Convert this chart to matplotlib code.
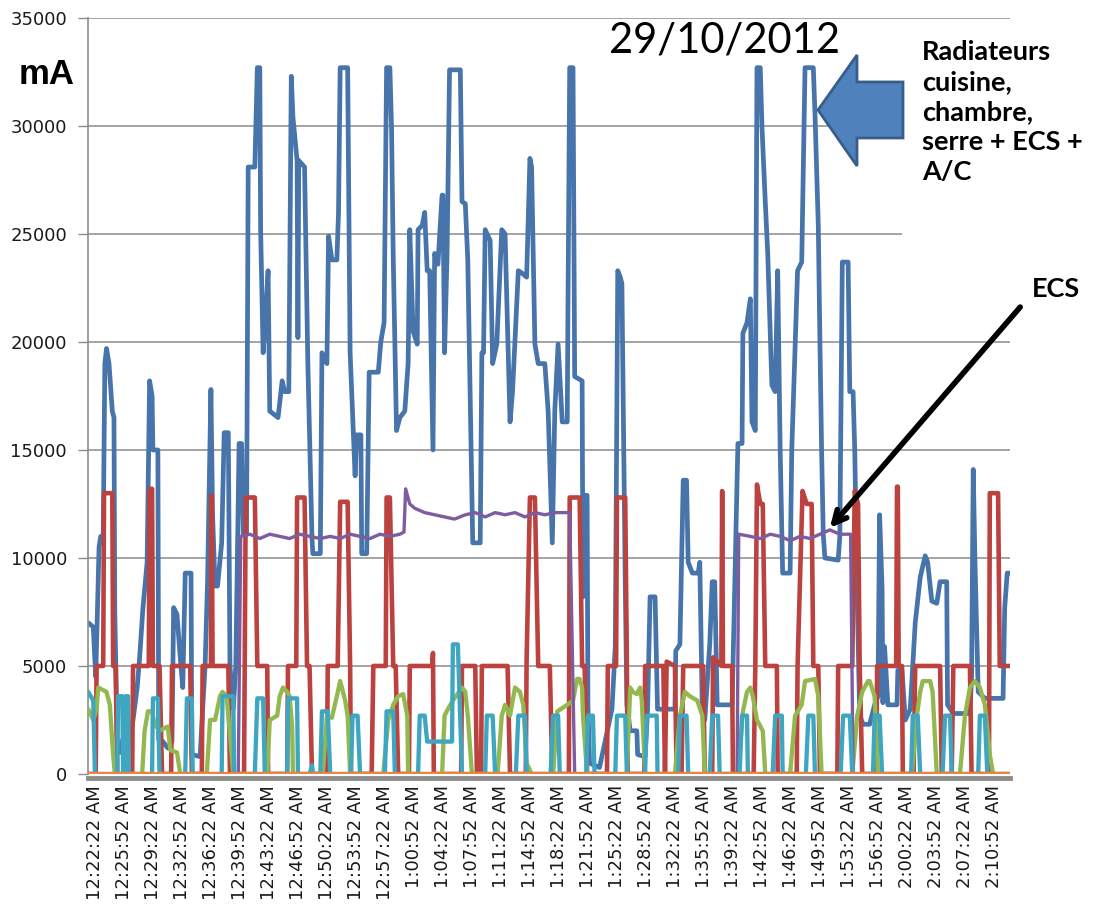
import matplotlib
matplotlib.use("Agg")
import matplotlib.pyplot as plt
from matplotlib.patches import Polygon, Rectangle

# Time in minutes after 12:22:22 AM, current in mA
total = [(-0.8, 7000), (-0.2, 6800), (0.1, 4500), (0.5, 10500), (0.7, 11000), (1.0, 11000),
         (1.2, 19000), (1.4, 19700), (1.7, 19000), (2.1, 16800), (2.3, 16500), (2.4, 7500),
         (2.7, 1500), (3.0, 1000), (3.6, 2000), (4.0, 1200), (4.6, 2500), (5.1, 4000),
         (5.4, 5400), (5.8, 7700), (6.3, 9800), (6.6, 18200), (6.9, 17500), (7.0, 15000),
         (7.6, 15000), (7.7, 1600), (8.2, 1500), (8.8, 1200), (9.3, 1500), (9.5, 7700),
         (9.9, 7400), (10.3, 5400), (10.6, 4000), (10.9, 9300), (11.6, 9300), (11.7, 900),
         (12.7, 800), (13.0, 3000), (13.3, 5000), (13.6, 9000), (14.0, 17800), (14.2, 12000),
         (14.5, 8700), (14.8, 8700), (15.3, 10700), (15.6, 15800), (16.1, 15800), (16.3, 5000),
         (16.7, 3000), (17.0, 5000), (17.4, 15300), (17.7, 15300), (17.9, 11100), (18.3, 11100),
         (18.5, 28100), (19.3, 28100), (19.6, 32700), (19.9, 32700), (20.0, 25200), (20.3, 19500),
         (20.5, 20500), (20.9, 23300), (21.1, 16800), (22.1, 16500), (22.6, 18200), (22.9, 17700),
         (23.4, 17700), (23.7, 32300), (23.9, 30400), (24.4, 28400), (24.5, 20200), (24.6, 28400),
         (25.3, 28100), (25.7, 19000), (26.2, 10900), (26.3, 10200), (27.2, 10200), (27.4, 19500),
         (28.0, 19000), (28.2, 24900), (28.6, 23800), (29.2, 23800), (29.4, 26000), (29.6, 32700),
         (30.5, 32700), (30.8, 19500), (31.4, 13800), (31.6, 15700), (32.1, 15700), (32.2, 10200),
         (32.8, 10200), (33.1, 18600), (34.2, 18600), (34.5, 20000), (34.9, 20900), (35.2, 32700),
         (35.6, 32700), (35.8, 29900), (36.0, 24000), (36.4, 15900), (36.8, 16500), (37.4, 16800),
         (37.8, 19000), (38.0, 25200), (38.4, 20500), (38.9, 19900), (39.0, 25200), (39.5, 25400),
         (39.8, 26000), (40.1, 23300), (40.4, 23300), (40.8, 15000), (41.0, 24100), (41.4, 23600),
         (41.9, 26800), (42.0, 26800), (42.2, 19500), (42.5, 24100), (42.8, 32600), (44.1, 32600),
         (44.3, 26500), (44.7, 26400), (45.0, 23800), (45.6, 10700), (46.5, 10700), (46.7, 19500),
         (46.9, 19500), (47.1, 25200), (47.7, 24700), (48.0, 19000), (48.5, 19900), (49.1, 25200),
         (49.5, 25000), (50.1, 16300), (50.4, 17700), (51.1, 23300), (51.5, 23200), (52.1, 23000),
         (52.5, 28500), (52.7, 28100), (53.1, 19900), (53.5, 19000), (54.3, 19000), (54.7, 16800),
         (55.2, 10700), (55.5, 16800), (55.9, 19900), (56.4, 16300), (57.0, 16300), (57.1, 22200),
         (57.3, 32700), (57.7, 32700), (57.9, 18400), (58.8, 18200), (58.9, 8200), (59.1, 12900),
         (59.4, 12900), (59.5, 3200), (59.7, 500), (60.9, 300), (62.4, 3000), (62.8, 5900),
         (63.1, 23300), (63.4, 23000), (63.6, 22700), (64.0, 8900), (64.2, 3200), (64.6, 2000),
         (65.4, 2000), (65.5, 900), (66.4, 800), (66.7, 3000), (67.0, 8200), (67.6, 8200),
         (67.9, 3000), (70.0, 3000), (70.1, 5700), (70.6, 6000), (71.0, 13600), (71.4, 13600),
         (71.6, 9800), (72.1, 9300), (72.8, 9300), (73.0, 9800), (73.3, 3000), (73.6, 2500),
         (74.2, 6000), (74.5, 8900), (74.8, 8900), (75.1, 3200), (76.9, 3200), (77.6, 15300),
         (78.1, 15300), (78.2, 20400), (78.7, 20900), (79.1, 22000), (79.3, 16300), (79.7, 15900),
         (79.9, 32700), (80.3, 32700), (80.5, 30000), (80.9, 26500), (81.2, 24100), (81.7, 18000),
         (82.1, 17700), (82.4, 23300), (82.7, 15000), (83.0, 9300), (83.9, 9300), (84.1, 15000),
         (84.8, 23300), (85.3, 23700), (85.7, 32700), (86.7, 32700), (86.9, 30600), (87.3, 25400),
         (87.5, 20000), (87.7, 15000), (87.9, 11100), (88.1, 10000), (89.7, 9900), (89.9, 11000),
         (90.2, 23700), (90.9, 23700), (91.1, 17700), (91.5, 17700), (91.7, 15000), (92.0, 8200),
         (92.3, 2700), (92.7, 2300), (93.5, 2300), (94.1, 3200), (94.5, 3600), (94.7, 12000),
         (95.0, 8600), (95.1, 3300), (95.3, 5900), (95.7, 3200), (96.8, 3200), (96.9, 4800),
         (97.4, 4800), (97.8, 2500), (98.4, 3000), (99.0, 7000), (99.6, 9100), (100.2, 10100),
         (100.5, 9800), (101.0, 8000), (101.6, 7900), (102.0, 8900), (102.8, 8900), (102.9, 3200),
         (103.6, 2800), (105.6, 2800), (105.8, 4500), (106.0, 14100), (106.2, 10000), (106.6, 3800),
         (107.4, 3500), (109.6, 3500), (109.8, 7700), (110.1, 9300), (110.4, 9300)]

radiators = [(-0.8, 0), (0.1, 0), (0.2, 5000), (1.0, 5000), (1.1, 13000), (2.1, 13000),
             (2.2, 5000), (2.5, 5000), (2.7, 0), (4.5, 0), (4.6, 5000), (6.5, 5000), (6.6, 13200),
             (6.9, 13200), (7.0, 5000), (7.8, 5000), (8.1, 0), (9.2, 0), (9.3, 5000), (11.5, 5000),
             (11.7, 0), (12.9, 0), (13.0, 5000), (14.0, 5000), (14.1, 12900), (14.2, 5000),
             (16.1, 5000), (16.3, 0), (18.0, 0), (18.2, 12800), (19.3, 12800), (19.6, 5000),
             (20.8, 5000), (20.9, 0), (23.2, 0), (23.3, 5000), (24.3, 5000), (24.4, 12800),
             (25.3, 12800), (25.6, 5000), (25.9, 5000), (26.2, 0), (28.0, 0), (28.1, 5000),
             (29.3, 5000), (29.6, 12600), (30.5, 12600), (30.8, 5000), (30.9, 0), (33.4, 0),
             (33.6, 5000), (35.1, 5000), (35.2, 12800), (35.6, 12800), (36.0, 5000), (36.3, 5000),
             (36.6, 0), (37.9, 0), (38.0, 5000), (40.7, 5000), (40.8, 5600), (40.9, 0), (44.2, 0),
             (44.3, 5000), (45.9, 5000), (46.1, 0), (46.6, 0), (46.7, 5000), (49.8, 5000),
             (50.1, 0), (52.0, 0), (52.1, 5300), (52.5, 12800), (53.1, 12800), (53.5, 5000),
             (54.9, 5000), (55.2, 0), (57.2, 0), (57.3, 12800), (58.5, 12800), (58.8, 5000),
             (59.1, 5000), (59.4, 0), (61.8, 0), (61.9, 5000), (62.9, 5000), (63.0, 12800),
             (64.0, 12800), (64.2, 5000), (64.3, 0), (66.3, 0), (66.4, 5000), (68.6, 5000),
             (68.8, 0), (69.0, 5200), (70.0, 5000), (70.2, 0), (70.8, 0), (71.0, 5000),
             (73.4, 5000), (73.6, 0), (74.5, 0), (74.6, 5400), (75.6, 5000), (75.7, 13100),
             (75.8, 5000), (76.9, 5000), (77.0, 0), (79.5, 0), (79.7, 5000), (79.9, 13400),
             (80.3, 12500), (80.6, 12500), (80.9, 5000), (82.3, 5000), (82.4, 0), (84.7, 0),
             (84.8, 5000), (85.4, 13100), (85.9, 12500), (86.5, 12500), (86.7, 5000), (87.3, 5000),
             (87.5, 0), (89.6, 0), (89.7, 5000), (91.4, 5000), (91.7, 13100), (92.1, 12500),
             (92.3, 5000), (92.6, 0), (94.3, 0), (94.4, 5000), (96.7, 5000), (96.8, 13300),
             (96.9, 13300), (97.0, 5000), (97.4, 5000), (97.5, 0), (98.8, 0), (99.0, 5000),
             (102.0, 5000), (102.2, 0), (103.4, 0), (103.6, 5000), (105.6, 5000), (105.8, 0),
             (107.9, 0), (108.0, 13000), (109.0, 13000), (109.2, 5000), (110.4, 5000)]

green = [(-0.8, 3000), (-0.2, 2500), (0.2, 3000), (0.4, 4000), (1.4, 3800), (1.8, 3200),
         (2.2, 900), (2.4, 0), (5.7, 0), (6.0, 2000), (6.4, 2900), (6.9, 2900), (7.2, 2300),
         (7.8, 2000), (8.8, 2200), (9.1, 1100), (9.9, 1000), (10.3, 0), (13.5, 0), (13.9, 2500),
         (14.5, 2500), (15.1, 3600), (15.4, 3800), (15.9, 3600), (16.5, 900), (16.7, 0),
         (20.8, 0), (21.1, 2500), (22.0, 2700), (22.3, 3600), (22.7, 4000), (23.2, 3800),
         (23.5, 3600), (23.8, 2200), (23.9, 0), (27.5, 0), (28.0, 2700), (28.6, 2600),
         (29.2, 3600), (29.6, 4300), (30.2, 3400), (30.5, 2700), (30.8, 0), (34.8, 0),
         (35.4, 2500), (36.0, 3200), (36.6, 3600), (37.2, 3700), (37.7, 2700), (37.8, 0),
         (41.9, 0), (42.2, 2700), (42.6, 3000), (43.2, 3400), (44.3, 4000), (44.7, 3800),
         (45.0, 2700), (45.5, 0), (48.6, 0), (49.1, 2700), (49.5, 3200), (50.1, 2700),
         (50.7, 4000), (51.3, 3800), (51.7, 3200), (52.1, 500), (52.7, 0), (55.3, 0),
         (55.8, 2900), (57.0, 3200), (57.7, 3400), (58.2, 4400), (58.5, 4400), (58.8, 4000),
         (58.9, 2700), (59.4, 0), (64.2, 0), (64.6, 4000), (64.9, 3800), (65.4, 3700),
         (65.8, 4000), (66.0, 3400), (66.4, 0), (70.0, 0), (70.6, 2700), (71.2, 3800),
         (71.8, 3600), (72.7, 3400), (73.3, 2700), (73.6, 0), (77.6, 0), (78.2, 2900),
         (78.7, 3800), (79.1, 4000), (79.4, 3600), (79.9, 2500), (80.6, 2000), (80.9, 0),
         (83.9, 0), (84.5, 2700), (85.3, 3200), (85.7, 4300), (86.9, 4400), (87.3, 3600),
         (87.7, 0), (91.4, 0), (92.0, 2700), (92.6, 3800), (93.3, 4300), (93.5, 4300),
         (94.1, 3600), (94.5, 0), (98.6, 0), (99.2, 2700), (99.6, 3800), (99.9, 4300),
         (100.8, 4300), (101.1, 3800), (101.6, 0), (104.4, 0), (105.0, 2700), (105.6, 4000),
         (106.2, 4300), (106.8, 4000), (107.4, 3200), (108.0, 900), (108.4, 0), (110.4, 0)]

ecs = [(-0.8, 0), (17.3, 0), (17.6, 11000), (18.7, 11100), (19.9, 10900), (21.1, 11100),
       (22.3, 11000), (23.5, 10900), (24.7, 11100), (25.9, 11000), (27.2, 10900), (28.4, 11000),
       (29.6, 10900), (30.8, 11100), (32.0, 11000), (33.2, 10900), (34.4, 11100), (35.6, 11000),
       (36.8, 11100), (37.3, 11200), (37.5, 13200), (38.0, 12500), (38.6, 12300), (39.8, 12100),
       (41.0, 12000), (42.2, 11900), (43.4, 11800), (44.7, 12000), (45.9, 12100), (47.1, 11900),
       (48.3, 12100), (49.5, 12000), (50.7, 12100), (51.9, 11900), (53.1, 12100), (54.3, 12000),
       (55.5, 12100), (57.3, 12100), (57.9, 0), (77.5, 0), (77.7, 11100), (79.1, 11000),
       (80.3, 10900), (81.5, 11100), (82.7, 11000), (83.9, 10800), (85.1, 11000), (86.3, 10900),
       (87.5, 11100), (88.7, 11300), (89.9, 11100), (91.2, 11100), (91.5, 0), (110.4, 0)]

aqua = [(-0.8, 3800), (-0.2, 3400), (0.0, 0), (2.7, 0), (2.8, 3600), (3.3, 3600), (3.4, 0),
        (3.6, 0), (3.7, 3600), (4.0, 3600), (4.1, 0), (6.9, 0), (7.0, 3500), (7.6, 3500),
        (7.8, 0), (10.9, 0), (11.1, 3500), (11.7, 3500), (11.8, 0), (15.3, 0), (15.4, 3600),
        (16.7, 3600), (16.8, 0), (19.3, 0), (19.6, 3500), (20.3, 3500), (20.5, 0), (23.2, 0),
        (23.3, 3500), (24.4, 3500), (24.5, 0), (25.9, 0), (26.2, 400), (26.3, 0), (27.2, 0),
        (27.4, 2900), (28.1, 2900), (28.4, 0), (30.9, 0), (31.1, 2700), (31.7, 2700), (32.0, 0),
        (35.0, 0), (35.2, 2900), (36.0, 2900), (36.2, 0), (39.0, 0), (39.2, 2700), (39.8, 2700),
        (40.1, 1500), (43.1, 1500), (43.2, 6000), (43.8, 6000), (44.3, 0), (47.1, 0),
        (47.3, 2700), (48.0, 2700), (48.3, 0), (50.8, 0), (51.1, 2700), (51.9, 2700), (52.1, 0),
        (55.0, 0), (55.3, 2700), (55.9, 2700), (56.1, 0), (59.3, 0), (59.5, 2700), (60.1, 2700),
        (60.3, 0), (62.8, 0), (63.0, 2700), (64.0, 2700), (64.2, 0), (66.4, 0), (66.6, 2700),
        (67.8, 2700), (67.9, 0), (70.4, 0), (70.6, 2700), (71.4, 2700), (71.6, 0), (74.2, 0),
        (74.5, 2700), (75.2, 2700), (75.4, 0), (77.8, 0), (78.1, 2700), (78.7, 2700), (78.8, 0),
        (81.8, 0), (82.1, 2700), (82.9, 2700), (83.0, 0), (85.8, 0), (86.1, 2700), (86.7, 2700),
        (86.9, 0), (90.0, 0), (90.3, 2700), (91.1, 2700), (91.4, 0), (93.9, 0), (94.1, 2700),
        (94.7, 2700), (95.0, 0), (98.5, 0), (98.7, 2700), (99.3, 2700), (99.6, 0), (102.3, 0),
        (102.6, 2700), (103.2, 2700), (103.4, 0), (106.6, 0), (106.8, 2700), (107.4, 2700),
        (107.7, 0), (110.4, 0)]

orange = [(-0.8, 0), (110.4, 0)]

tick_labels = ["12:22:22 AM", "12:25:52 AM", "12:29:22 AM", "12:32:52 AM", "12:36:22 AM",
               "12:39:52 AM", "12:43:22 AM", "12:46:52 AM", "12:50:22 AM", "12:53:52 AM",
               "12:57:22 AM", "1:00:52 AM", "1:04:22 AM", "1:07:52 AM", "1:11:22 AM",
               "1:14:52 AM", "1:18:22 AM", "1:21:52 AM", "1:25:22 AM", "1:28:52 AM",
               "1:32:22 AM", "1:35:52 AM", "1:39:22 AM", "1:42:52 AM", "1:46:22 AM",
               "1:49:52 AM", "1:53:22 AM", "1:56:52 AM", "2:00:22 AM", "2:03:52 AM",
               "2:07:22 AM", "2:10:52 AM"]
tick_step = 3.5  # minutes between labels

series = [
    (total, "#4674AB", 3.4),
    (radiators, "#BB423E", 3.3),
    (green, "#93B84F", 3.1),
    (ecs, "#7D5CA0", 2.4),
    (aqua, "#3FA6C2", 3.1),
    (orange, "#F0843E", 3.0),
]

plt.rcParams["font.family"] = "DejaVu Sans"

fig = plt.figure(figsize=(10.98, 9.18), dpi=100)
ax = fig.add_axes([0.0801, 0.1569, 0.8397, 0.8235])

for i, (data, color, lw) in enumerate(series):
    t, v = zip(*data)
    ax.plot(t, v, color=color, lw=lw, solid_joinstyle="round", solid_capstyle="round",
            zorder=2 + i)

ax.set_xlim(-0.84, 110.43)
ax.set_ylim(0, 35000)
ax.set_xticks([i * tick_step for i in range(len(tick_labels))])
ax.set_xticklabels(tick_labels)
yt = list(range(0, 35001, 5000))
ax.set_yticks(yt)
ax.set_yticklabels([str(v) for v in yt])
ax.tick_params(axis="x", length=0, pad=5, labelrotation=90, labelsize=13,
               labelcolor="#1a1a1a")
ax.tick_params(axis="y", length=7, width=1, color="#8c8c8c", pad=8, labelsize=13,
               labelcolor="#1a1a1a")

ax.yaxis.grid(True, color="#8c8c8c", lw=1.1)
ax.set_axisbelow(True)
for s in ["top", "right"]:
    ax.spines[s].set_visible(False)
ax.spines["left"].set_color("#8c8c8c")
ax.spines["left"].set_linewidth(1.2)
ax.spines["bottom"].set_color("#8c8c8c")
ax.spines["bottom"].set_linewidth(3.5)
ax.spines["bottom"].set_position(("outward", 3))

# white box behind the annotation text
fig.add_artist(Rectangle((0.8215, 0.7331), 0.1785, 0.2429, transform=fig.transFigure,
                         facecolor="white", edgecolor="none", zorder=5))

# big blue arrow
arrow_pts = [(0.7450, 0.8802), (0.7805, 0.9401), (0.7805, 0.9107), (0.8224, 0.9107),
             (0.8224, 0.8497), (0.7805, 0.8497), (0.7805, 0.8192)]
fig.add_artist(Polygon(arrow_pts, closed=True, transform=fig.transFigure,
                       facecolor="#4F81BD", edgecolor="#385D8A", lw=2, zorder=6))

fig.text(0.0428, 0.919, "mA", fontsize=25, fontweight="bold", family="Liberation Sans",
         ha="center", va="center", zorder=7)
fig.text(0.660, 0.956, "29/10/2012", fontsize=30, family="Lato",
         ha="center", va="center", zorder=7)
fig.text(0.8397, 0.956, "Radiateurs\ncuisine,\nchambre,\nserre + ECS +\nA/C", fontsize=19.5,
         fontweight="bold", family="Lato", ha="left", va="top", linespacing=1.3, zorder=7)
fig.text(0.940, 0.685, "ECS", fontsize=19.5, fontweight="bold", family="Lato",
         ha="left", va="center", zorder=7)

ax.annotate("", xy=(0.7541, 0.4227), xycoords="figure fraction",
            xytext=(0.9308, 0.6678), textcoords="figure fraction",
            arrowprops=dict(arrowstyle="->,head_length=0.9,head_width=0.45", lw=4,
                            color="black"),
            annotation_clip=False, zorder=8)

fig.savefig("out.png", dpi=100)
